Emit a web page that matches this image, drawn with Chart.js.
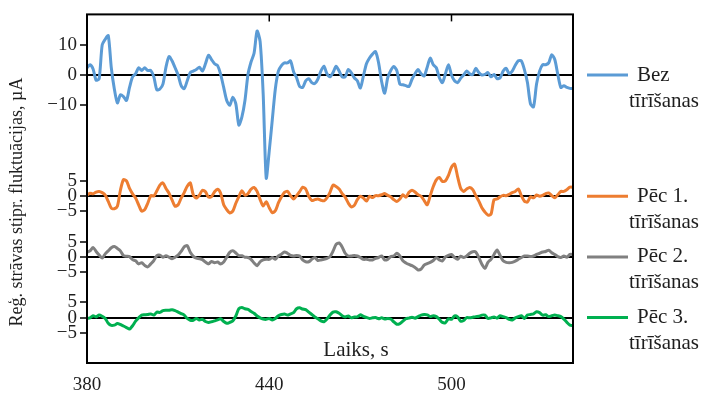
<!DOCTYPE html>
<html>
<head>
<meta charset="utf-8">
<script src="https://cdn.jsdelivr.net/npm/chart.js"></script>
<style>
  html, body { margin: 0; padding: 0; background: #fff; }
</style>
</head>
<body>
<canvas id="chartFluct" width="704" height="396"></canvas>

<script>
    // laiks, s
    const times = [
        380,381,382,383,384,385,386,387,388,389,390,391,392,393,394,395,396,397,398,399,
        400,401,402,403,404,405,406,407,408,409,410,411,412,413,414,415,416,417,418,419,
        420,421,422,423,424,425,426,427,428,429,430,431,432,433,434,435,436,437,438,439,
        440,441,442,443,444,445,446,447,448,449,450,451,452,453,454,455,456,457,458,459,
        460,461,462,463,464,465,466,467,468,469,470,471,472,473,474,475,476,477,478,479,
        480,481,482,483,484,485,486,487,488,489,490,491,492,493,494,495,496,497,498,499,
        500,501,502,503,504,505,506,507,508,509,510,511,512,513,514,515,516,517,518,519,
        520,521,522,523,524,525,526,527,528,529,530,531,532,533,534,535,536,537,538,539,540
    ];

    // Bez tīrīšanas
    const bezTirisanas = [
        2.4, 3.4, 2.0, -1.7, -1.2, 9.9, 11.8, 13, 2.4, -4.6,
        -9.2, -6.5, -7.1, -8.4, -4.1, -0.6, 0.4, 2.4, 1.5, 2.4,
        1.5, 1.5, -0.6, -4.9, -4.6, -3, 2.6, 6.1, 4.7, 2.4,
        0, -3.5, -4.5, -1.9, 0.8, 1.3, 1.8, 2.6, 1.3, 3.7,
        6.5, 5.1, 3.7, 3.1, 0.2, -4.1, -8.4, -10, -7.3, -9.5,
        -16.5, -13.8, -8.4, 0.2, 4.3, 7.2, 14.5, 11, -6.2, -34,
        -25, -14.8, -4.6, 1.3, 3.1, 4, 4, 4.7, 1.1, -0.9,
        -3.8, -4.1, -1.9, -1.2, -2.5, -2.8, -1.4, 1.3, 2.9, 0.4,
        -0.6, 0.8, 2.9, 1.3, -0.6, -0.6, 1.8, 0.8, -0.9, -1.9,
        -4.3, -0.3, 3.7, 5.6, 6.9, 7.7, 4, -2.2, -6, -0.9,
        1.5, 2.8, 1.5, -3, -3.2, -3.5, -3.8, -1.4, 0.4, 1.8,
        0.4, -0.3, 2.6, 5.6, 3.4, 2.4, -0.9, -2.5, 0.4, 3.4,
        0, -1.9, -2.5, -1.1, 0, 1.3, 0.4, 0.2, 2.2, 0.8,
        0, 0.2, 0.8, -0.6, 0.2, -1.2, -0.9, 1.3, 2.2, 0.4,
        1.3, 3.2, 4.7, 4.7, 1.8, -2.5, -9.5, -10.5, -3, 1.3,
        3.4, 3.4, 4, 6.7, 5.1, 0.2, -4.1, -3.5, -4.1, -4.4, -4.5
    ];

    // Pēc 1. tīrīšanas
    const pec1 = [
        0.4, 1, 0.8, 1.4, 1.6, 1.2, 0.4, -1.7, -3.9, -4.1,
        -3.3, 2, 5.5, 5.1, 2.6, 0.8, -0.6, -2.8, -4.9, -4.4,
        -2.3, 0.2, 0.1, 1.8, 3.7, 4.4, 2.6, 1, -1.2, -3.3,
        -2.8, -0.6, 1.2, 3.3, 4.4, 0.4, -0.6, 0.4, 2, 1.5,
        -0.3, -0.1, 1.5, 2.3, 1, -2.8, -4.4, -5.5, -4.9, -2.3,
        -0.1, 1.8, 0.4, 0.9, 2.3, 2.9, 1.6, -1.1, -3.2, -1.8,
        -3.8, -5.4, -4.8, -2.2, -0.2, 1.3, 1.6, 0.2, -0.9, 0.2,
        1.5, 3, 2.4, 0, -1.4, -1.1, -0.9, -1.3, -1.5, -0.5,
        1.3, 3.7, 3.2, 2.4, 0.9, -0.3, -2.2, -3.5, -3, -1.1,
        0, -0.6, -1.6, 0, -0.4, 0.2, 0.2, 0.5, 0.9, 0.3,
        -0.2, -1.1, -1.7, -0.9, 0.5, -0.3, 1.3, 2, 1.4, 0.5,
        0, -1.4, -2.8, 0.2, 3.2, 5.4, 6.2, 4.9, 5.1, 6.9,
        9.6, 10.6, 6.5, 2.7, 1.6, 2.4, 2.9, 2.2, 0.2, -1.6,
        -3.8, -5.2, -6.2, -5.9, -1.1, -0.9, -0.2, 0.3, 0.2, 0.6,
        1.2, 1.6, 2.4, 0.2, -1.6, -1.9, -0.2, -0.5, 0.4, 0,
        0.3, 0.9, 1.1, 0.2, -0.5, 0.5, 1.6, 1.6, 2.2, 3, 3
    ];

    // Pēc 2. tīrīšanas
    const pec2 = [
        1.5, 2, 3.1, 1.8, 0.6, -0.4, 1, 2, 3, 3.4,
        2.8, 2, 0.4, 0.2, 0.1, -0.9, -1.3, -2.3, -1.9, -2.8,
        -3.3, -2.3, -1.2, 0.4, 0.6, -0.1, 0.4, -0.1, -0.6, -0.1,
        0.6, 1.8, 3.3, 3.7, 1.5, 0.2, -0.4, -0.6, -0.9, -1.7,
        -2.3, -1.5, -1.9, -1.7, -2.3, -1.7, -0.1, 1.5, 2, 1.3,
        0.4, 0.4, -0.1, -0.2, -0.8, -2, -2.9, -1.6, -1, -0.8,
        -0.8, -0.2, -0.8, 0.3, 0.9, 1.6, 1.2, 0.5, 0.3, 0.5,
        0.3, -1, -1.6, -1.6, -0.8, -0.2, -1.2, -1, -0.8, -0.5,
        0.1, 1.9, 4.1, 4.6, 3.3, 1.2, 0.3, 0.3, 0.5, 0.3,
        -0.2, -0.8, -0.8, -1, -1, -0.5, -0.2, 0.3, -1, -0.8,
        0.1, 0.3, 1.2, 0.3, -1.3, -2, -2.5, -2.9, -3.5, -4.3,
        -4, -2.7, -2.2, -1.8, -1.2, -0.2, -1, -1.3, 0, 0.5,
        0.8, -0.2, -0.8, 0.2, -0.2, 0.3, 1.2, 1.7, 1.6, -0.2,
        -2.4, -3.8, -1.8, -0.8, 0.8, 2.3, 0.5, -1.3, -1.8, -1.9,
        -1.8, -1.4, -0.8, -0.2, 0.3, 0.3, 0.1, 0.3, 0.8, 1.2,
        1.6, 1.8, 2.2, 1.4, 0.8, 0.1, -0.2, 0.3, -0.1, 0.8, 0.8
    ];

    // Pēc 3. tīrīšanas
    const pec3 = [
        -0.3, -0.1, 0.6, 0.2, 0.8, 0.4, -0.3, -1.9, -2.6, -2.5,
        -2, -2.3, -2.8, -3.3, -3.8, -2.7, -1.2, -0.1, 0.8, 0.9,
        1, 1.2, 0.8, 1.8, 1.7, 2.3, 2.4, 2.4, 2.6, 2.3,
        1.8, 1.3, 0.8, -0.3, -0.9, -0.9, -0.3, -0.8, -0.6, -1.3,
        -1.6, -1.4, -1.1, -0.8, -0.4, -1.3, -1.9, -1.6, -1.1, 0.5,
        2.9, 3.3, 2.9, 2.7, 2, 1.4, 0.5, -0.1, -0.5, -0.6,
        -0.3, -0.8, -0.3, 0.6, 1, 1.2, 0.8, 1.2, 1.6, 2.9,
        3.2, 2.8, 2.6, 1.8, 1, 0.2, -0.4, -1.1, -1.4, -0.5,
        0.8, 1.8, 1.9, 1.4, 0.6, 0.2, 0.5, -0.1, 0.2, 0.2,
        0.9, 0.4, 0, -0.3, -0.1, 0, -0.4, -0.1, -0.5, -0.3,
        -0.5, -1.4, -2.2, -2, -1.2, -0.4, -0.2, 0.1, -0.2, 0.3,
        0.8, 1, 0.9, 0.3, 0.6, 0.3, -0.6, -1.6, -1.7, -0.4,
        -0.6, 0.5, 0.2, -1.2, -1, 0, -0.1, 0.1, 0.3, 0.4,
        0.8, 0.8, -0.3, -0.1, 0.2, -0.2, 0.6, 0.3, 0, -0.6,
        -0.8, -0.1, 0.3, 0.6, -0.3, 0.8, 1, 1.2, 1.9, 1.6,
        0.8, 0.9, 0.3, 0.6, 0.8, 0.6, 0.3, -0.5, -1.6, -2.5, -2.7
    ];

    const seriesData = [bezTirisanas, pec1, pec2, pec3];
    const seriesOffsets = [80, 40, 20, 0];   // nobīde uz kopīgās ass
    const seriesColors = ['#5B9BD5', '#ED7D31', '#808080', '#00B050'];
    const legendLine1 = ['Bez', 'Pēc 1.', 'Pēc 2.', 'Pēc 3.'];
    const legendLine2 = ['tīrīšanas', 'tīrīšanas', 'tīrīšanas', 'tīrīšanas'];

    // ass iedaļas
    const yTickVals = [90, 80, 70, 45, 40, 35, 25, 20, 15, 5, 0, -5];
    const yTickLabels = ['10', '0', '−10', '5', '0', '−5', '5', '0', '−5', '5', '0', '−5'];
    const xTickVals = [380, 440, 500];

    const serif = "'Liberation Serif', 'Times New Roman', serif";
    const textColor = '#1e1e1e';

    let datasets = seriesData.map((vals, i) => ({
        label: legendLine1[i] + ' ' + legendLine2[i],
        data: vals.map((v, j) => ({ x: times[j], y: v + seriesOffsets[i] })),
        borderColor: seriesColors[i],
        borderWidth: 3,
        pointRadius: 0,
        tension: 0.25,
        fill: false
    }));

    // rāmis, augšējās iedaļas, teksti un leģenda
    const extras = {
        id: 'extras',
        afterDraw(chart) {
            const ctx = chart.ctx;
            const a = chart.chartArea;
            const xs = chart.scales.x;
            const ys = chart.scales.y;
            ctx.save();
            ctx.strokeStyle = '#000';
            ctx.lineWidth = 2;
            ctx.strokeRect(a.left, a.top, a.right - a.left, a.bottom - a.top);
            ctx.lineWidth = 1.5;
            xTickVals.forEach(v => {
                const px = xs.getPixelForValue(v);
                if (px > a.left + 2) {
                    ctx.beginPath();
                    ctx.moveTo(px, a.top);
                    ctx.lineTo(px, a.top + 7);
                    ctx.stroke();
                }
            });

            ctx.fillStyle = textColor;
            ctx.textAlign = 'center';
            ctx.textBaseline = 'middle';
            ctx.font = '21px ' + serif;
            ctx.fillText('Laiks, s', 356, a.bottom - 13);

            ctx.save();
            ctx.font = '18px ' + serif;
            ctx.translate(17, 202);
            ctx.rotate(-Math.PI / 2);
            ctx.fillText('Reģ. strāvas stipr. fluktuācijas, µA', 0, 0);
            ctx.restore();

            ctx.textAlign = 'left';
            ctx.font = '21px ' + serif;
            seriesOffsets.forEach((off, i) => {
                const py = ys.getPixelForValue(off);
                ctx.strokeStyle = seriesColors[i];
                ctx.lineWidth = 3;
                ctx.beginPath();
                ctx.moveTo(587, py);
                ctx.lineTo(628, py);
                ctx.stroke();
                ctx.fillText(legendLine1[i], 637, py);
                ctx.fillText(legendLine2[i], 629, py + 26);
            });
            ctx.restore();
        }
    };

    let ctx = document.getElementById('chartFluct').getContext('2d');
    let myChart = new Chart(ctx, {
        type: 'line',
        data: { datasets: datasets },
        options: {
            responsive: false,
            animation: false,
            layout: { padding: { left: 0, right: 131, top: 10, bottom: 0 } },
            plugins: {
                legend: { display: false },
                tooltip: { enabled: false }
            },
            scales: {
                x: {
                    type: 'linear',
                    min: 380,
                    max: 540,
                    afterBuildTicks: s => { s.ticks = xTickVals.map(v => ({ value: v })); },
                    afterFit: s => { s.height = 33; },
                    grid: { display: false, drawTicks: false },
                    border: { display: false },
                    ticks: {
                        padding: 11,
                        color: textColor,
                        font: { family: serif, size: 19 }
                    }
                },
                y: {
                    min: -15,
                    max: 100,
                    afterBuildTicks: s => { s.ticks = yTickVals.map(v => ({ value: v })); },
                    afterFit: s => { s.width = 87; },
                    border: { display: false },
                    grid: {
                        color: c => seriesOffsets.includes(c.tick.value) ? '#000' : 'rgba(0,0,0,0)',
                        lineWidth: 2,
                        tickColor: '#000',
                        tickLength: 7,
                        tickWidth: 1.5
                    },
                    ticks: {
                        padding: 3,
                        color: textColor,
                        font: { family: serif, size: 19 },
                        callback: v => {
                            const k = yTickVals.indexOf(v);
                            return k >= 0 ? yTickLabels[k] : '';
                        }
                    }
                }
            }
        },
        plugins: [extras]
    });
</script>
</body>
</html>
